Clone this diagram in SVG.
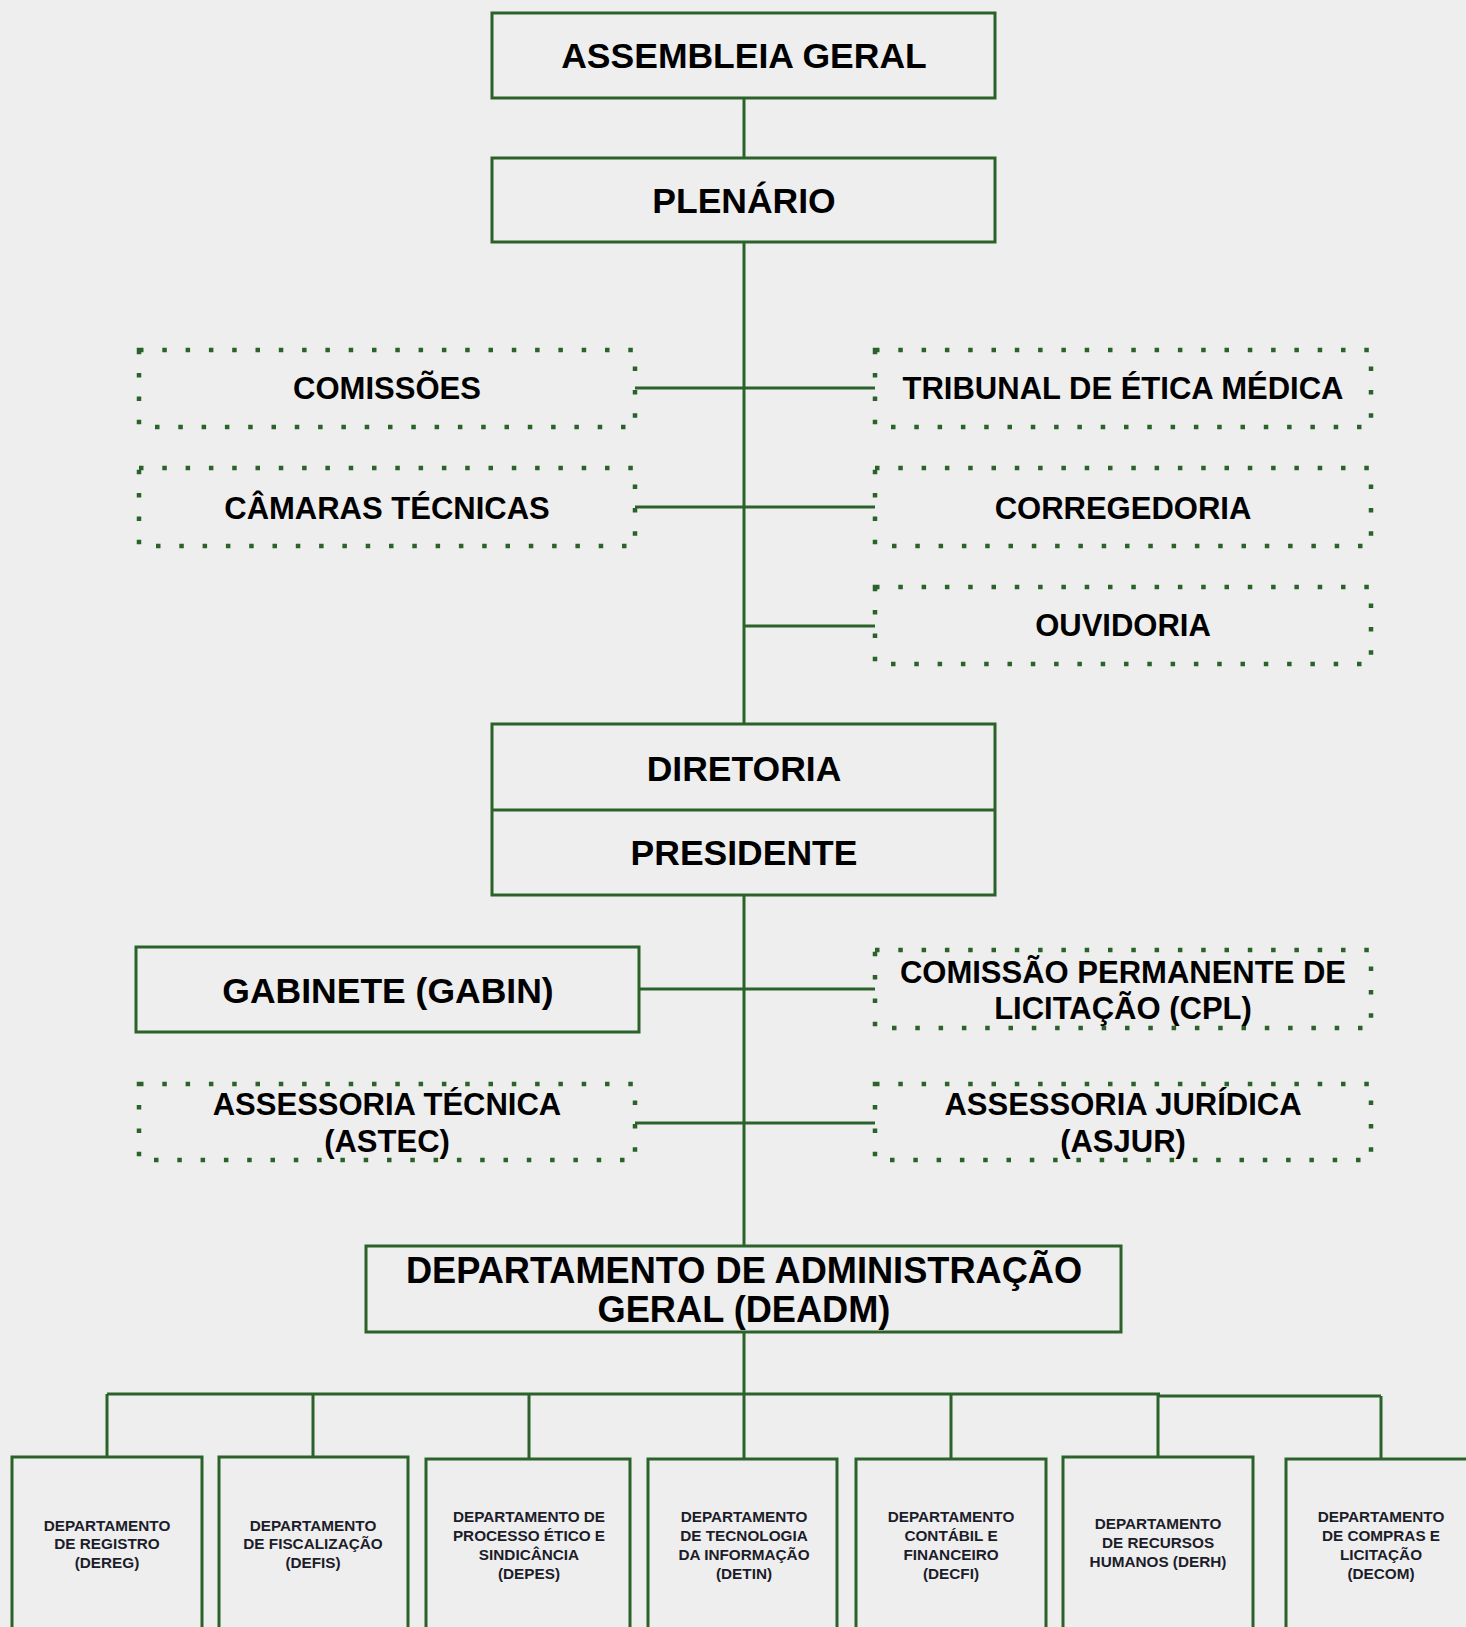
<svg xmlns="http://www.w3.org/2000/svg" width="1466" height="1627" viewBox="0 0 1466 1627">
<style>
.bg{fill:#eeeeee}
.box{fill:none;stroke:#2a622a;stroke-width:3}
.dot{fill:none;stroke:#2a622a;stroke-width:4.5;stroke-dasharray:4.5 18.8}
.conn line,.conn path{stroke:#2a622a;stroke-width:3;fill:none}
text{font-family:"Liberation Sans",Arial,Helvetica,sans-serif;font-weight:bold;text-anchor:middle;fill:#000}
.big{font-size:35.5px}
.dd{font-size:36.2px}
.mid{font-size:31px}
.sm{font-size:15.3px;fill:#1c1c2a}
</style>
<rect class="bg" x="0" y="0" width="1466" height="1627"/>
<g id="connectors" class="conn">
<line x1="744" y1="98" x2="744" y2="158"/>
<line x1="744" y1="242" x2="744" y2="724"/>
<line x1="635" y1="388" x2="875" y2="388"/>
<line x1="635" y1="507" x2="875" y2="507"/>
<line x1="744" y1="626" x2="875" y2="626"/>
<line x1="744" y1="895" x2="744" y2="1246"/>
<line x1="639" y1="989" x2="875" y2="989"/>
<line x1="635" y1="1123" x2="875" y2="1123"/>
<line x1="744" y1="1332" x2="744" y2="1394"/>
<line x1="107" y1="1394" x2="1160" y2="1394"/>
<line x1="1158" y1="1396" x2="1381" y2="1396"/>
<line x1="107" y1="1394" x2="107" y2="1457"/>
<line x1="313" y1="1394" x2="313" y2="1457"/>
<line x1="529" y1="1394" x2="529" y2="1459"/>
<line x1="744" y1="1394" x2="744" y2="1459"/>
<line x1="951" y1="1394" x2="951" y2="1459"/>
<line x1="1158" y1="1394" x2="1158" y2="1457"/>
<line x1="1381" y1="1396" x2="1381" y2="1459"/>
</g>
<g id="assembleia">
<rect class="box" x="492" y="13" width="503" height="85"/>
<text class="big" x="744" y="68">ASSEMBLEIA GERAL</text>
</g>
<g id="plenario">
<rect class="box" x="492" y="158" width="503" height="84"/>
<text class="big" x="744" y="213">PLENÁRIO</text>
</g>
<g id="comissoes">
<rect class="dot" x="139" y="350" width="496" height="77"/>
<text class="mid" x="387" y="399">COMISSÕES</text>
</g>
<g id="camaras">
<rect class="dot" x="139" y="468" width="496" height="78"/>
<text class="mid" x="387" y="519">CÂMARAS TÉCNICAS</text>
</g>
<g id="tribunal">
<rect class="dot" x="875" y="350" width="496" height="77"/>
<text class="mid" x="1123" y="399">TRIBUNAL DE ÉTICA MÉDICA</text>
</g>
<g id="corregedoria">
<rect class="dot" x="875" y="468" width="496" height="78"/>
<text class="mid" x="1123" y="519">CORREGEDORIA</text>
</g>
<g id="ouvidoria">
<rect class="dot" x="875" y="587" width="496" height="77"/>
<text class="mid" x="1123" y="636">OUVIDORIA</text>
</g>
<g id="diretoria">
<rect class="box" x="492" y="724" width="503" height="171"/>
<line x1="492" y1="810" x2="995" y2="810" stroke="#2a622a" stroke-width="3"/>
<text class="big" x="744" y="781">DIRETORIA</text>
<text class="big" x="744" y="865">PRESIDENTE</text>
</g>
<g id="gabinete">
<rect class="box" x="136" y="947" width="503" height="85"/>
<text class="big" x="388" y="1003">GABINETE (GABIN)</text>
</g>
<g id="cpl">
<rect class="dot" x="875" y="950" width="496" height="78"/>
<text class="mid" x="1123" y="983">COMISSÃO PERMANENTE DE</text>
<text class="mid" x="1123" y="1019">LICITAÇÃO (CPL)</text>
</g>
<g id="astec">
<rect class="dot" x="139" y="1084" width="496" height="76"/>
<text class="mid" x="387" y="1115">ASSESSORIA TÉCNICA</text>
<text class="mid" x="387" y="1152">(ASTEC)</text>
</g>
<g id="asjur">
<rect class="dot" x="875" y="1084" width="496" height="76"/>
<text class="mid" x="1123" y="1115">ASSESSORIA JURÍDICA</text>
<text class="mid" x="1123" y="1152">(ASJUR)</text>
</g>
<g id="deadm">
<rect class="box" x="366" y="1246" width="755" height="86"/>
<text class="dd" x="744" y="1283">DEPARTAMENTO DE ADMINISTRAÇÃO</text>
<text class="dd" x="744" y="1322">GERAL (DEADM)</text>
</g>
<g id="dereg">
<rect class="box" x="12" y="1457" width="190" height="300"/>
<text class="sm" x="107" y="1531">DEPARTAMENTO</text>
<text class="sm" x="107" y="1549">DE REGISTRO</text>
<text class="sm" x="107" y="1568">(DEREG)</text>
</g>
<g id="defis">
<rect class="box" x="219" y="1457" width="189" height="300"/>
<text class="sm" x="313" y="1531">DEPARTAMENTO</text>
<text class="sm" x="313" y="1549">DE FISCALIZAÇÃO</text>
<text class="sm" x="313" y="1568">(DEFIS)</text>
</g>
<g id="depes">
<rect class="box" x="426" y="1459" width="204" height="300"/>
<text class="sm" x="529" y="1522">DEPARTAMENTO DE</text>
<text class="sm" x="529" y="1541">PROCESSO  ÉTICO E</text>
<text class="sm" x="529" y="1560">SINDICÂNCIA</text>
<text class="sm" x="529" y="1579">(DEPES)</text>
</g>
<g id="detin">
<rect class="box" x="648" y="1459" width="189" height="300"/>
<text class="sm" x="744" y="1522">DEPARTAMENTO</text>
<text class="sm" x="744" y="1541">DE TECNOLOGIA</text>
<text class="sm" x="744" y="1560">DA INFORMAÇÃO</text>
<text class="sm" x="744" y="1579">(DETIN)</text>
</g>
<g id="decfi">
<rect class="box" x="856" y="1459" width="190" height="300"/>
<text class="sm" x="951" y="1522">DEPARTAMENTO</text>
<text class="sm" x="951" y="1541">CONTÁBIL E</text>
<text class="sm" x="951" y="1560">FINANCEIRO</text>
<text class="sm" x="951" y="1579">(DECFI)</text>
</g>
<g id="derh">
<rect class="box" x="1063" y="1457" width="190" height="300"/>
<text class="sm" x="1158" y="1529">DEPARTAMENTO</text>
<text class="sm" x="1158" y="1548">DE RECURSOS</text>
<text class="sm" x="1158" y="1567">HUMANOS (DERH)</text>
</g>
<g id="decom">
<rect class="box" x="1286" y="1459" width="250" height="300"/>
<text class="sm" x="1381" y="1522">DEPARTAMENTO</text>
<text class="sm" x="1381" y="1541">DE COMPRAS E</text>
<text class="sm" x="1381" y="1560">LICITAÇÃO</text>
<text class="sm" x="1381" y="1579">(DECOM)</text>
</g>
</svg>
